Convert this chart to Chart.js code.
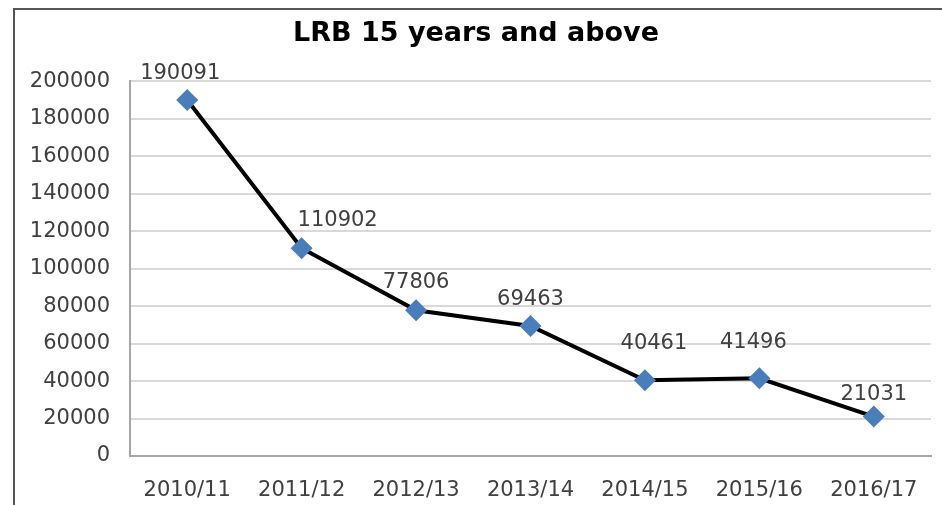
<!DOCTYPE html>
<html>
<head>
<meta charset="utf-8">
<script src="https://cdn.jsdelivr.net/npm/chart.js@4/dist/chart.umd.min.js"></script>
<style>
  html, body { margin: 0; padding: 0; background: #fff; }
  #frame {
    position: absolute; left: 13px; top: 8px;
    width: 929px; height: 497px;
    border-left: 2px solid #555; border-top: 2px solid #555;
  }
  #wrap { position: absolute; left: 0; top: 0; width: 927px; height: 495px; }
</style>
</head>
<body>
<div id="frame"><div id="wrap"><canvas id="lrbChart"></canvas></div></div>
<script>
const years = ['2010/11', '2011/12', '2012/13', '2013/14', '2014/15', '2015/16', '2016/17'];
const lrbValues = [190091, 110902, 77806, 69463, 40461, 41496, 21031];
const yTicks = [0, 20000, 40000, 60000, 80000, 100000, 120000, 140000, 160000, 180000, 200000];

// small nudges so labels sit like the Excel ones
const labelShift = [[-7, -26], [36, -28], [0, -28], [0, -26], [9, -37], [-6, -36], [0, -22]];

const labelPlugin = {
  id: 'pointLabels',
  afterDatasetsDraw(chart) {
    const ctx = chart.ctx;
    const meta = chart.getDatasetMeta(0);
    ctx.save();
    ctx.font = "21px 'DejaVu Sans'";
    ctx.fillStyle = '#404040';
    ctx.textAlign = 'center';
    ctx.textBaseline = 'middle';
    meta.data.forEach((pt, i) => {
      const s = labelShift[i];
      ctx.fillText(String(lrbValues[i]), pt.x + s[0], pt.y + s[1]);
    });
    ctx.restore();
  }
};

new Chart(document.getElementById('lrbChart').getContext('2d'), {
  type: 'line',
  data: {
    labels: years,
    datasets: [{
      label: 'LRB',
      data: lrbValues,
      borderColor: '#000000',
      borderWidth: 4,
      backgroundColor: '#4A7EBB',
      pointStyle: 'rectRot',
      pointRadius: 11,
      pointBorderWidth: 0,
      pointBackgroundColor: '#4A7EBB',
      tension: 0,
    }]
  },
  options: {
    responsive: true,
    maintainAspectRatio: false,
    animation: false,
    layout: { padding: { left: 0, right: 5, top: 0, bottom: 0 } },
    plugins: {
      legend: { display: false },
      tooltip: { enabled: false },
      title: {
        display: true,
        text: 'LRB 15 years and above',
        color: '#000000',
        font: { size: 27, weight: 'bold', family: "'DejaVu Sans'" },
        padding: { top: 8, bottom: 31 }
      }
    },
    scales: {
      x: {
        offset: true,
        grid: { display: false, drawTicks: false },
        border: { color: '#a6a6a6', width: 2 },
        ticks: { color: '#404040', font: { size: 21, family: "'DejaVu Sans'" }, padding: 22 },
        afterFit: (scale) => { scale.height = 49; }
      },
      y: {
        min: 0,
        max: 200000,
        grid: { color: '#d9d9d9', lineWidth: 2, drawTicks: false },
        border: { color: '#a6a6a6', width: 2 },
        afterBuildTicks: (scale) => { scale.ticks = yTicks.map(v => ({ value: v })); },
        ticks: {
          color: '#404040',
          font: { size: 21, family: "'DejaVu Sans'" },
          padding: 20,
          callback: (value) => String(value)
        },
        afterFit: (scale) => { scale.width = 115; }
      }
    }
  },
  plugins: [labelPlugin]
});
</script>
</body>
</html>
